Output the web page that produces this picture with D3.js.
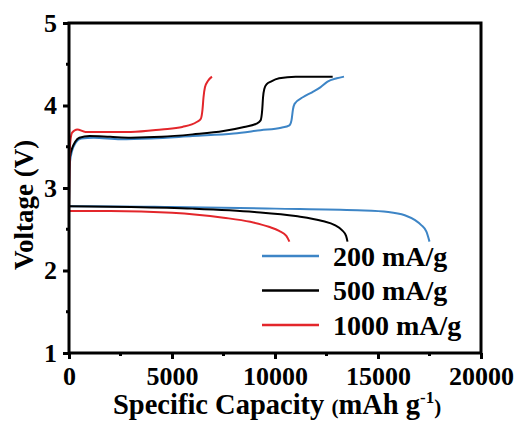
<!DOCTYPE html>
<html>
<head>
<meta charset="utf-8">
<script src="https://cdn.jsdelivr.net/npm/d3@7"></script>
<style>
  body { margin: 0; background: #fff; }
  svg { display: block; font-family: "Liberation Serif", "Times New Roman", serif; font-weight: bold; }
</style>
</head>
<body>
<svg width="521" height="423"></svg>
<script>
"use strict";

// series names and colours
var seriesNames = ["200 mA/g", "500 mA/g", "1000 mA/g"];
var seriesColors = ["#3d85c6", "#000000", "#e3262b"];

// [capacity (mAh/g), voltage (V)]
var charge200 = [[0,2.78],[15,3.1],[50,3.32],[150,3.45],[300,3.54],[600,3.60],[1200,3.61],[2500,3.59],[4000,3.60],[6000,3.63],[8000,3.66],[9300,3.70],[10300,3.73],[10700,3.76],[10800,3.82],[10870,3.95],[10950,4.02],[11350,4.10],[11800,4.16],[12200,4.22],[12550,4.29],[13000,4.33],[13350,4.35]];
var discharge200 = [[0,2.78],[1000,2.78],[5000,2.77],[10000,2.75],[14000,2.73],[15500,2.71],[16300,2.67],[16800,2.61],[17100,2.55],[17350,2.47],[17500,2.35]];

var charge500 = [[0,2.80],[15,3.2],[50,3.38],[150,3.48],[300,3.56],[500,3.61],[1000,3.63],[2000,3.62],[3000,3.61],[4500,3.62],[6000,3.65],[7500,3.69],[8500,3.74],[9100,3.78],[9300,3.82],[9380,3.95],[9420,4.10],[9480,4.20],[9600,4.26],[9800,4.29],[10200,4.33],[11000,4.35],[12800,4.35]];
var discharge500 = [[0,2.78],[3000,2.77],[6000,2.75],[9000,2.71],[11000,2.66],[12300,2.60],[12900,2.55],[13250,2.49],[13450,2.42],[13520,2.35]];

var charge1000 = [[0,2.72],[20,3.2],[60,3.55],[150,3.67],[400,3.71],[800,3.68],[1500,3.68],[3000,3.68],[4500,3.71],[5500,3.74],[6200,3.80],[6400,3.84],[6480,3.95],[6530,4.10],[6600,4.22],[6750,4.30],[6940,4.35]];
var discharge1000 = [[0,2.72],[2000,2.72],[5000,2.70],[7500,2.64],[8800,2.59],[9700,2.53],[10200,2.48],[10550,2.42],[10700,2.35]];

var xTicks = [0, 5000, 10000, 15000, 20000];
var xMinor = [2500, 7500, 12500, 17500];
var yTicks = [1, 2, 3, 4, 5];
var yMinor = [1.5, 2.5, 3.5, 4.5];

var curves = [
  {s: 0, d: charge200}, {s: 0, d: discharge200},
  {s: 1, d: charge500}, {s: 1, d: discharge500},
  {s: 2, d: charge1000}, {s: 2, d: discharge1000}
];

var svg = d3.select("svg"),
    margin = {top: 23, left: 69},
    width = 412,
    height = 330,
    g = svg.append("g").attr("transform", "translate(" + margin.left + "," + margin.top + ")");

var x = d3.scaleLinear().domain([0, 20000]).range([0, width]);
var y = d3.scaleLinear().domain([1, 5]).range([height, 0]);

var line = d3.line()
    .x(function(d) { return x(d[0]); })
    .y(function(d) { return y(d[1]); })
    .curve(d3.curveMonotoneX);

g.append("g")
  .selectAll("path")
  .data(curves)
  .enter().append("path")
    .attr("d", function(c) { return line(c.d); })
    .attr("fill", "none")
    .attr("stroke", function(c) { return seriesColors[c.s]; })
    .attr("stroke-width", 2)
    .attr("stroke-linejoin", "round");

// axes
var xAxis = g.append("g")
    .attr("transform", "translate(0," + height + ")")
    .call(d3.axisBottom(x).tickValues(xTicks).tickFormat(d3.format("d")).tickSize(6).tickPadding(8).tickSizeOuter(0));
xAxis.append("g").selectAll("line").data(xMinor).enter().append("line")
    .attr("x1", x).attr("x2", x).attr("y1", 0).attr("y2", 3);

var yAxis = g.append("g")
    .call(d3.axisLeft(y).tickValues(yTicks).tickFormat(d3.format("d")).tickSize(6).tickPadding(6).tickSizeOuter(0));
yAxis.append("g").selectAll("line").data(yMinor).enter().append("line")
    .attr("y1", y).attr("y2", y).attr("x1", 0).attr("x2", -3);

svg.selectAll(".domain").remove();
svg.selectAll(".tick line, g line").attr("stroke", "#000").attr("stroke-width", 3);
svg.selectAll(".tick text")
    .attr("fill", "#000")
    .style("font-size", "26px")
    .style("font-family", "Liberation Serif, serif")
    .style("font-weight", "bold");

g.append("rect")
    .attr("width", width)
    .attr("height", height)
    .attr("fill", "none")
    .attr("stroke", "#000")
    .attr("stroke-width", 3);

// axis titles
var xt = svg.append("text")
    .attr("x", 113)
    .attr("y", 414)
    .style("font-size", "28.5px");
xt.append("tspan").text("Specific Capacity ");
xt.append("tspan").style("font-size", "21px").text("(");
xt.append("tspan").text("mAh g");
xt.append("tspan").style("font-size", "17px").attr("dy", -11).text("-1");
xt.append("tspan").style("font-size", "21px").attr("dy", 11).text(")");

svg.append("text")
    .attr("transform", "translate(33,205) rotate(-90)")
    .attr("text-anchor", "middle")
    .style("font-size", "27px")
    .text("Voltage (V)");

// legend
var legend = svg.append("g")
  .selectAll("g")
  .data(seriesNames)
  .enter().append("g")
    .attr("transform", function(d, i) { return "translate(262," + (256 + i * 34.5) + ")"; });

legend.append("line")
    .attr("x1", 0).attr("x2", 57)
    .attr("stroke", function(d, i) { return seriesColors[i]; })
    .attr("stroke-width", 2.5);

legend.append("text")
    .attr("x", 71)
    .attr("dy", "0.35em")
    .style("font-size", "28px")
    .text(function(d) { return d; });
</script>
</body>
</html>
